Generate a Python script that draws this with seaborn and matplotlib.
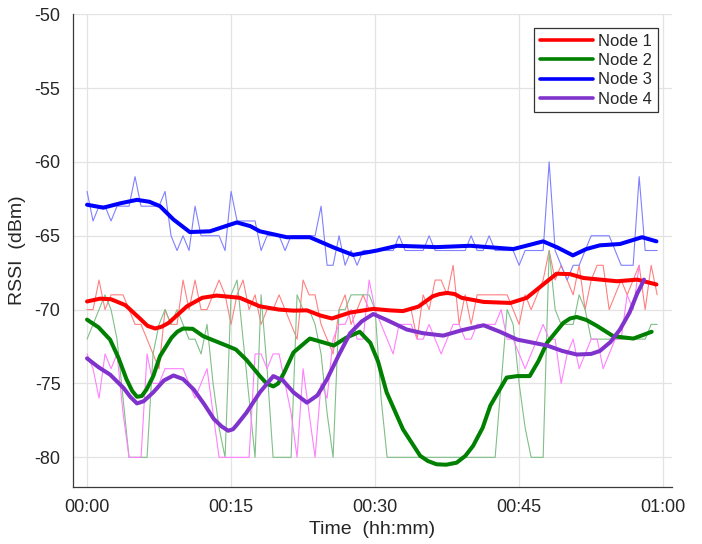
import numpy as np
import pandas as pd
import matplotlib
matplotlib.use("Agg")
import matplotlib.pyplot as plt
import seaborn as sns

# ---------------- data ----------------
SAMPLE_MIN = 0.625  # sampling interval in minutes

node1_raw = [-70, -70, -68, -70, -69, -69, -69, -70, -71, -71, -72, -73, -74, -70, -71, -71,
             -68, -70, -68, -70, -70, -69, -68, -69, -71, -69, -68, -70, -69, -71, -70, -70,
             -69, -70, -71, -72, -68, -69, -69, -71, -72, -73, -70, -69, -71, -70, -69, -70,
             -70, -70, -70, -70, -70, -70, -70, -72, -69, -70, -68, -68, -69, -67, -71, -69,
             -71, -69, -69, -69, -69, -69, -69, -70, -71, -69, -70, -69, -68, -66, -68, -67,
             -68, -69, -67, -70, -68, -67, -67, -70, -69, -68, -69, -68, -67, -70, -67, -69]

node2_raw = [-72, -71, -70, -69, -70, -72, -76, -80, -80, -80, -80, -73, -71, -70, -71, -70,
             -71, -72, -72, -73, -71, -75, -78, -80, -69, -68, -72, -76, -80, -69, -74, -80,
             -80, -80, -80, -69, -70, -70, -71, -73, -77, -80, -70, -70, -69, -69, -69, -69,
             -70, -76, -80, -80, -80, -80, -80, -80, -80, -80, -80, -80, -80, -80, -80, -80,
             -80, -80, -80, -80, -80, -75, -70, -71, -75, -78, -80, -80, -80, -66, -70, -71,
             -71, -71, -69, -70, -72, -72, -72, -72, -72, -72, -72, -72, -72, -72, -71, -71]

node3_raw = [-62, -64, -63, -63, -64, -63, -63, -63, -61, -63, -63, -63, -63, -62, -65, -66,
             -65, -66, -63, -65, -65, -65, -65, -66, -62, -64, -64, -64, -64, -66, -65, -65,
             -65, -66, -65, -65, -65, -65, -65, -63, -67, -67, -65, -67, -66, -67, -66, -66,
             -66, -66, -66, -66, -65, -66, -66, -66, -66, -65, -66, -66, -66, -66, -66, -66,
             -65, -66, -66, -65, -66, -66, -66, -66, -67, -66, -66, -66, -66, -60, -66, -67,
             -68, -67, -67, -66, -65, -65, -65, -65, -66, -67, -67, -67, -61, -66, -66, -66]

node4_raw = [-73, -74, -76, -73, -74, -73, -77, -80, -80, -80, -73, -75, -75, -74, -74, -74,
             -74, -75, -76, -75, -74, -77, -80, -80, -80, -80, -80, -80, -73, -73, -74, -73,
             -73, -75, -77, -80, -74, -77, -80, -75, -76, -72, -71, -71, -70, -72, -72, -68,
             -70, -71, -72, -73, -71, -71, -71, -72, -72, -71, -72, -73, -72, -71, -71, -72,
             -72, -71, -71, -71, -71, -70, -72, -72, -73, -74, -73, -72, -71, -72, -72, -75,
             -73, -72, -74, -73, -72, -72, -74, -73, -72, -72, -69, -70, -67]

# smoothed trends (minutes, dBm)
node1_fit_t = [0, 1.35, 2.5, 4, 5.5, 6.3, 7.1, 7.8, 8.5, 10.4, 12, 13.5, 15.9, 18, 20, 21.5,
               22.9, 24.3, 25.5, 27.4, 29.8, 31.5, 32.9, 34.5, 36, 36.7, 37.5, 38.3, 39, 41.3,
               44.1, 45.8, 47.5, 48.9, 50.3, 51.7, 55.2, 57.3, 59.3]
node1_fit_v = [-69.45, -69.26, -69.3, -69.7, -70.6, -71.1, -71.28, -71.15, -70.9, -69.78, -69.2,
               -69.05, -69.2, -69.78, -70.0, -70.07, -70.05, -70.4, -70.6, -70.2, -69.95, -70.05,
               -70.1, -69.8, -69.1, -68.95, -68.87, -68.95, -69.2, -69.48, -69.55, -69.2, -68.3,
               -67.57, -67.6, -67.86, -68.08, -67.97, -68.3]

node2_fit_t = [0, 1.2, 2.4, 3.3, 4.1, 4.7, 5.2, 5.7, 6.2, 6.9, 7.6, 8.8, 9.4, 10, 11, 12.1, 14.5,
               15.5, 16.6, 18, 18.7, 19.4, 19.9, 20.5, 21.5, 23.2, 24.5, 25.7, 27, 28.4, 29.5,
               30.3, 31.2, 32.9, 34.7, 35.5, 36.4, 37.4, 38.5, 39.4, 40.2, 41.2, 42, 43.7, 44.8,
               46.1, 47, 47.9, 49.6, 50.3, 51, 52, 53.1, 54.8, 56.9, 58.8]
node2_fit_v = [-70.68, -71.2, -72.03, -73.3, -74.7, -75.5, -75.9, -75.85, -75.4, -74.5, -73.15,
               -71.9, -71.5, -71.28, -71.3, -71.8, -72.43, -72.7, -73.4, -74.5, -75.0, -75.2,
               -75.0, -74.3, -72.9, -71.96, -72.2, -72.43, -71.9, -71.5, -72.25, -73.5, -75.6,
               -78.1, -79.9, -80.25, -80.47, -80.5, -80.36, -79.9, -79.23, -78.0, -76.5, -74.6,
               -74.5, -74.5, -73.5, -72.25, -70.9, -70.6, -70.5, -70.7, -71.1, -71.8, -71.96, -71.5]

node3_fit_t = [0, 1.7, 3.5, 5.2, 6.5, 7.6, 9, 10.7, 12.8, 14.2, 15.6, 17, 18, 20.8, 23.2, 25.7,
               27.7, 30.2, 32.3, 36.4, 39.9, 44.4, 46.2, 47.5, 49, 50.6, 52, 53.4, 55.5, 57.8, 59.3]
node3_fit_v = [-62.9, -63.1, -62.8, -62.57, -62.7, -63.0, -63.9, -64.75, -64.7, -64.4, -64.1,
               -64.35, -64.7, -65.1, -65.1, -65.8, -66.3, -66.0, -65.68, -65.77, -65.68, -65.9,
               -65.6, -65.38, -65.8, -66.33, -65.9, -65.65, -65.56, -65.1, -65.38]

node4_fit_t = [0, 1.2, 2.4, 3.8, 4.5, 5.2, 5.9, 6.9, 8, 9, 10, 11.1, 12.2, 13.2, 14, 14.7, 15.2,
               15.6, 16.6, 18, 19.4, 20.4, 21.5, 22.9, 24, 25, 26.2, 27.4, 28.6, 29.8, 31.2,
               33.3, 35, 37.1, 39, 41.3, 43, 44.8, 47.9, 49.5, 51, 52.5, 53.4, 54.5, 55.5, 56.5,
               57.3, 57.7, 58]
node4_fit_v = [-73.3, -73.9, -74.4, -75.3, -75.9, -76.35, -76.2, -75.6, -74.8, -74.46, -74.7,
               -75.4, -76.4, -77.4, -77.9, -78.2, -78.1, -77.8, -76.98, -75.6, -74.5, -74.8,
               -75.6, -76.3, -75.8, -74.7, -73.1, -71.6, -70.8, -70.3, -70.7, -71.35, -71.6,
               -71.76, -71.4, -71.06, -71.5, -72.03, -72.43, -72.8, -73.04, -73.0, -72.8, -72.2,
               -71.35, -70.2, -68.9, -68.4, -67.97]

labels = ["Node 1", "Node 2", "Node 3", "Node 4"]
raw_series = [node1_raw, node2_raw, node3_raw, node4_raw]
fit_series = [(node1_fit_t, node1_fit_v), (node2_fit_t, node2_fit_v),
              (node3_fit_t, node3_fit_v), (node4_fit_t, node4_fit_v)]
fit_colors = ["#FF0000", "#008000", "#0000FF", "#8033CC"]
raw_colors = ["#FF8080", "#80BF88", "#8080FF", "#FF80FF"]

xticks = [0, 15, 30, 45, 60]
xticklabels = ["00:00", "00:15", "00:30", "00:45", "01:00"]
yticks = [-80, -75, -70, -65, -60, -55, -50]

# ---------------- plot ----------------
sns.set_style("white")
plt.rcParams['font.family'] = ['Liberation Sans', 'DejaVu Sans']

fig = plt.figure(figsize=(7.02, 5.44), dpi=100)
ax = fig.add_axes([0.104, 0.105, 0.853, 0.869])

for raw, c in zip(raw_series, raw_colors):
    df = pd.DataFrame({"t": np.arange(len(raw)) * SAMPLE_MIN, "v": raw})
    sns.lineplot(data=df, x="t", y="v", ax=ax, color=c, lw=0.8,
                 estimator=None, sort=False, legend=False, zorder=2)

handles = []
for (ft, fv), c, lab in zip(fit_series, fit_colors, labels):
    df = pd.DataFrame({"t": ft, "v": fv})
    sns.lineplot(data=df, x="t", y="v", ax=ax, color=c, lw=2.9,
                 estimator=None, sort=False, legend=False, zorder=3)
    line = ax.lines[-1]
    line.set_solid_joinstyle("round")
    line.set_solid_capstyle("round")
    handles.append(line)

ax.set_xlim(-1.46, 60.9)
ax.set_ylim(-82, -50)
ax.set_xticks(xticks)
ax.set_xticklabels(xticklabels)
ax.set_yticks(yticks)
ax.set_yticklabels([str(v) for v in yticks])

ax.grid(True, color="#E3E3E3", lw=0.9)
ax.set_axisbelow(True)
for s in ["top", "right"]:
    ax.spines[s].set_visible(False)
for s in ["left", "bottom"]:
    ax.spines[s].set_color("#3A3A3A")
    ax.spines[s].set_linewidth(0.9)

ax.tick_params(axis="both", direction="in", length=5, width=0.9, color="#3A3A3A",
               labelsize=13, labelcolor="#262626", pad=9)

ax.set_xlabel("Time  (hh:mm)", fontsize=14, color="#262626", labelpad=3)
ax.set_ylabel("RSSI  (dBm)", fontsize=14, color="#262626", labelpad=6)

leg = ax.legend(handles, labels, loc="upper right", bbox_to_anchor=(0.977, 0.970),
                borderaxespad=0, fontsize=12, frameon=True, fancybox=False,
                edgecolor="#333333", framealpha=1, handlelength=3.2,
                handletextpad=0.3, labelspacing=0.25, borderpad=0.35)
leg.get_frame().set_linewidth(0.9)
for h in leg.get_lines():
    h.set_linewidth(2.6)

fig.savefig("out.png", dpi=100)
